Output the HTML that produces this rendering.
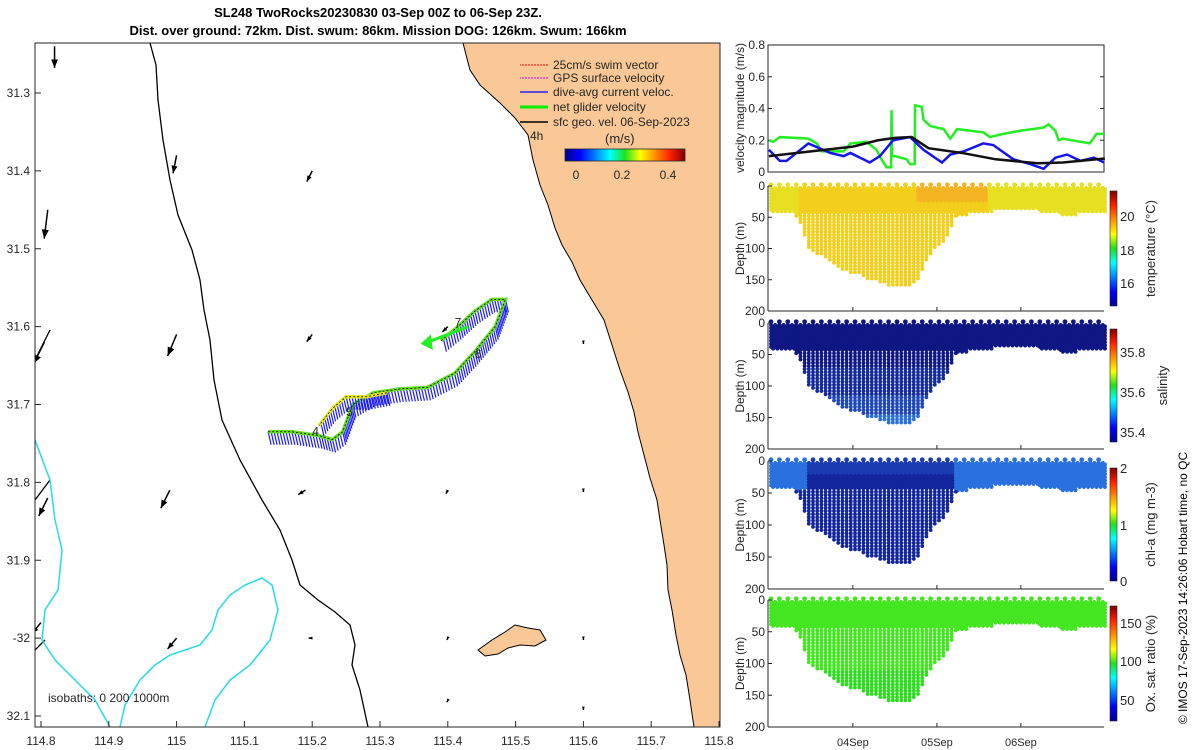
<!DOCTYPE html>
<html><head><meta charset="utf-8">
<style>
html,body{margin:0;padding:0;background:#fff;width:1200px;height:750px;overflow:hidden;font-family:"Liberation Sans",sans-serif;}
svg text{font-family:"Liberation Sans",sans-serif;fill:#262626;}
</style></head>
<body>
<svg id="fig" width="1200" height="750" viewBox="0 0 1200 750" xmlns="http://www.w3.org/2000/svg">
<defs>
<linearGradient id="jetH" x1="0" x2="1" y1="0" y2="0">
<stop offset="0" stop-color="#00008f"/><stop offset="0.125" stop-color="#0000ff"/><stop offset="0.375" stop-color="#00ffff"/><stop offset="0.5" stop-color="#20e020"/><stop offset="0.625" stop-color="#ffff00"/><stop offset="0.875" stop-color="#ff2000"/><stop offset="1" stop-color="#800000"/></linearGradient>
<linearGradient id="jetV" x1="0" x2="0" y1="1" y2="0">
<stop offset="0" stop-color="#00008f"/><stop offset="0.125" stop-color="#0000ff"/><stop offset="0.375" stop-color="#00ffff"/><stop offset="0.5" stop-color="#20e020"/><stop offset="0.625" stop-color="#ffff00"/><stop offset="0.875" stop-color="#ff2000"/><stop offset="1" stop-color="#800000"/></linearGradient>
<clipPath id="mapClip"><rect x="35" y="43" width="685" height="684"/></clipPath>
</defs>
<text x="378" y="17" text-anchor="middle" font-size="13" font-weight="bold" style="fill:#000">SL248 TwoRocks20230830 03-Sep 00Z to 06-Sep 23Z.</text>
<text x="378" y="35" text-anchor="middle" font-size="13" font-weight="bold" style="fill:#000">Dist. over ground: 72km. Dist. swum: 86km. Mission DOG: 126km. Swum: 166km</text>

<g id="map" clip-path="url(#mapClip)">
<rect x="35" y="43" width="685" height="684" fill="#fff"/>
<path fill="#f9c896" stroke="#000" stroke-width="1" d="M463,43 L470,70 L480,85 L500,103 L515,118 L528,135 L533,160 L540,185 L548,205 L555,228 L562,245 L572,262 L580,280 L592,300 L604,320 L612,345 L620,370 L628,392 L634,412 L638,432 L644,455 L650,478 L657,500 L660,520 L664,545 L667,565 L668,590 L672,610 L676,635 L680,655 L686,675 L690,700 L694,727 L720,727 L720,43 Z"/>
<path fill="#f9c896" stroke="#000" stroke-width="1" d="M478,650 L492,640 L505,632 L515,625 L528,628 L540,630 L546,640 L535,646 L520,645 L508,648 L498,654 L485,656 Z"/>
<path fill="none" stroke="#000" stroke-width="1.3" d="M150,43 L156,65 L158,100 L163,140 L170,180 L178,215 L192,250 L200,280 L204,310 L210,340 L214,380 L222,420 L240,460 L262,500 L280,530 L292,560 L300,585 L318,600 L335,612 L350,625 L355,645 L352,665 L360,690 L368,727"/>
<path fill="none" stroke="#000" stroke-width="1.3" d="M35,360 L50,330 M35,500 L50,480 M35,650 L45,640"/>
<path fill="none" stroke="#22dde8" stroke-width="1.5" d="M35,440 L50,480 L55,520 L62,550 L58,590 L45,610 L42,640 L55,660 L75,680 L95,700 L110,727 M205,727 L215,700 L230,680 L250,665 L270,640 L278,610 L272,585 L262,578 L245,585 L230,595 L218,610 L212,630 L200,645 L185,650 L170,655 L155,665 L140,680 L125,705 L120,727"/>
<g id="mapArrows"></g>
<g id="track"></g>
<text x="48" y="702" font-size="12">isobaths: 0   200  1000m</text>
</g>
<rect x="35" y="43" width="685" height="684" fill="none" stroke="#262626" stroke-width="1"/>
<g id="mapTicks"></g>

<g font-size="12">
<line x1="548" y1="65" x2="520" y2="65" stroke="#e00" stroke-dasharray="2,1"/><text x="553" y="69">25cm/s swim vector</text>
<line x1="548" y1="78" x2="520" y2="78" stroke="#e0e" stroke-dasharray="2,1"/><text x="553" y="82">GPS surface velocity</text>
<line x1="548" y1="92" x2="520" y2="92" stroke="#00f" stroke-width="1.3"/><text x="553" y="96">dive-avg current veloc.</text>
<line x1="548" y1="107" x2="520" y2="107" stroke="#0e0" stroke-width="3"/><text x="553" y="111">net glider velocity</text>
<line x1="548" y1="122" x2="520" y2="122" stroke="#000" stroke-width="1.5"/><text x="553" y="126">sfc geo. vel. 06-Sep-2023</text>
<text x="530" y="140">4h</text>
<text x="605" y="143" font-size="13">(m/s)</text>
<rect x="565" y="149" width="120" height="12" fill="url(#jetH)" stroke="#262626" stroke-width="0.8"/>
<text x="576" y="179" text-anchor="middle">0</text><text x="622" y="179" text-anchor="middle">0.2</text><text x="668" y="179" text-anchor="middle">0.4</text>
</g>

<g id="right"></g>
<text transform="translate(1187,588) rotate(-90)" text-anchor="middle" font-size="12" style="fill:#000">© IMOS 17-Sep-2023 14:26:06 Hobart time, no QC</text>
</svg>
<script>
// ---- velocity series (time in days since 03-Sep 00Z) ----
const greenT=[0,0.05,0.13,0.47,0.57,0.63,0.89,0.97,1.16,1.28,1.34,1.4,1.455,1.46,1.465,1.5,1.64,1.68,1.735,1.74,1.82,1.84,1.92,2.08,2.16,2.24,2.55,2.63,2.79,2.99,3.27,3.33,3.41,3.45,3.5,3.82,3.9,3.99];
const greenV=[0.2,0.19,0.22,0.21,0.18,0.13,0.13,0.18,0.19,0.14,0.08,0.03,0.03,0.39,0.1,0.1,0.08,0.05,0.05,0.42,0.41,0.33,0.29,0.27,0.21,0.27,0.25,0.22,0.24,0.26,0.28,0.3,0.26,0.2,0.21,0.18,0.24,0.24];
const blueT=[0,0.13,0.21,0.47,0.73,0.89,0.97,1.2,1.32,1.48,1.68,1.84,2.06,2.16,2.32,2.55,2.67,2.91,3.11,3.27,3.41,3.55,3.71,3.87,3.99];
const blueV=[0.14,0.07,0.07,0.18,0.12,0.1,0.12,0.06,0.1,0.2,0.22,0.14,0.06,0.11,0.13,0.18,0.17,0.08,0.05,0.02,0.09,0.11,0.07,0.09,0.06];
const blackT=[0,0.5,1.0,1.3,1.5,1.7,1.9,2.3,2.7,3.2,3.5,4.0];
const blackV=[0.1,0.13,0.16,0.2,0.215,0.22,0.15,0.12,0.08,0.055,0.06,0.085];
// ---- dive max depths (one per dive, 0.05 day apart) ----
const diveMax=[40,40,40,40,40,42,50,60,80,100,105,108,110,115,120,125,130,133,136,140,140,142,145,148,150,152,155,157,160,160,160,160,160,158,155,148,135,120,110,100,95,90,80,65,50,45,45,42,40,40,38,38,38,36,36,35,35,35,36,36,36,35,35,36,38,40,40,42,42,44,45,45,44,42,42,40,40,40,40,40];
const dateLabels=["04Sep","05Sep","06Sep"];
const dateTicks=[1,2,3];
// ---- map data ----
const lonTicks=[114.8,114.9,115,115.1,115.2,115.3,115.4,115.5,115.6,115.7,115.8];
const latTicks=[31.3,31.4,31.5,31.6,31.7,31.8,31.9,32.0,32.1];
const latLabels=["31.3","31.4","31.5","31.6","31.7","31.8","31.9","-32","32.1"];
const arrowLon=[114.82,114.81,114.805,114.81,114.8,115.0,115.0,114.99,115.0,115.2,115.2,115.19,115.2,115.4,115.4,115.4,115.4,115.6,115.6,115.6,115.6];
const arrowLat=[31.24,31.45,31.62,31.82,31.98,31.38,31.61,31.81,32.0,31.4,31.61,31.81,32.0,31.6,31.81,32.0,32.08,31.62,31.81,32.0,32.09];
const arrowU=[0,-0.02,-0.06,-0.05,-0.05,-0.02,-0.05,-0.05,-0.05,-0.03,-0.03,-0.04,-0.02,-0.03,-0.01,-0.005,-0.005,0,0,0,0];
const arrowV=[-0.12,-0.16,-0.12,-0.1,-0.06,-0.1,-0.12,-0.1,-0.06,-0.06,-0.04,-0.025,0,-0.03,-0.02,-0.01,-0.01,-0.01,-0.01,-0.01,-0.01];
const trackLon=[115.135,115.17,115.21,115.23,115.245,115.26,115.29,115.33,115.37,115.41,115.44,115.47,115.485,115.465,115.44,115.415,115.39];
const trackLat=[31.735,31.735,31.74,31.745,31.735,31.7,31.685,31.68,31.678,31.66,31.632,31.6,31.565,31.565,31.58,31.6,31.618];
const trackLon2=[115.31,115.28,115.25,115.23,115.21];
const trackLat2=[31.685,31.69,31.69,31.705,31.727];

const NS="http://www.w3.org/2000/svg";
function mk(tag,attrs,parent){const e=document.createElementNS(NS,tag);for(const k in attrs)e.setAttribute(k,attrs[k]);parent.appendChild(e);return e;}
const lonX=lon=>41+(lon-114.8)*678;
const latY=lat=>93+(lat-31.3)*778.75;

const mt=document.getElementById('mapTicks');
lonTicks.forEach(l=>{const x=lonX(l);mk('line',{x1:x,x2:x,y1:727,y2:721,stroke:'#262626'},mt);
 const t=mk('text',{x:x,y:745,'text-anchor':'middle','font-size':12},mt);t.textContent=(+l.toFixed(1)).toString();
 
 });
latTicks.forEach((l,i)=>{const y=latY(l);mk('line',{x1:35,x2:41,y1:y,y2:y,stroke:'#262626'},mt);
 const t=mk('text',{x:30,y:y+4,'text-anchor':'end','font-size':12},mt);t.textContent=latLabels[i];
 
 });

const ma=document.getElementById('mapArrows');
arrowLon.forEach((lo,i)=>{const x=lonX(lo),y=latY(arrowLat[i]);const dx=arrowU[i]*180,dy=-arrowV[i]*180;
 const x2=x+dx,y2=y+dy;const L=Math.hypot(dx,dy)||1;const ux=dx/L,uy=dy/L;const h=Math.min(9,3+L*0.25);
 const g=mk('g',{},ma);
 
 
 mk('line',{x1:x,y1:y,x2:x2,y2:y2,stroke:'#000','stroke-width':1.5},g);
 mk('polygon',{points:`${x2},${y2} ${x2-ux*h-uy*h*0.4},${y2-uy*h+ux*h*0.4} ${x2-ux*h+uy*h*0.4},${y2-uy*h-ux*h*0.4}`,fill:'#000'},g);});

const tr=document.getElementById('track');
function drawTrack(lons,lats,cols){
 const pts=lons.map((l,i)=>[lonX(l),latY(lats[i])]);
 for(let i=0;i<pts.length-1;i++){const [a,b]=pts[i],[c,d]=pts[i+1];const n=Math.max(2,Math.round(Math.hypot(c-a,d-b)/3));
  for(let k=0;k<n;k++){const x=a+(c-a)*k/n,y=b+(d-b)*k/n;mk('line',{x1:x,y1:y,x2:x+3,y2:y+13,stroke:'#1a1aff','stroke-width':1.2},tr);}}
 const p=mk('polyline',{points:pts.map(p=>p.join(',')).join(' '),fill:'none',stroke:cols,'stroke-width':3.5},tr);
 
 
 mk('polyline',{points:pts.map(p=>p.join(',')).join(' '),fill:'none',stroke:'#000','stroke-width':0.8,'stroke-dasharray':'2,2'},tr);
}
drawTrack(trackLon,trackLat,'#66dd22');
drawTrack(trackLon2,trackLat2,'#e8e820');
const nv=mk('line',{x1:lonX(115.43),y1:latY(31.6),x2:lonX(115.37),y2:latY(31.62),stroke:'#22ee22','stroke-width':3},tr);


mk('polygon',{points:`${lonX(115.36)},${latY(31.622)} ${lonX(115.375)},${latY(31.61)} ${lonX(115.378)},${latY(31.63)}`,fill:'#22ee22'},tr);
[["4",115.2,31.74],["5",115.25,31.715],["6",115.44,31.64],["7",115.41,31.6]].forEach(a=>{const t=mk('text',{x:lonX(a[1]),y:latY(a[2]),'font-size':12},tr);t.textContent=a[0];});

// ---- right panels ----
const R=document.getElementById('right');
const X0=768,X1=1104;
const tx=t=>768.9+t*84;
const vTop=45,vBot=172;const vy=v=>vBot-(v/0.8)*(vBot-vTop);
const vp=mk('g',{},R);


mk('rect',{x:X0,y:vTop,width:X1-X0,height:vBot-vTop,fill:'#fff',stroke:'#262626'},vp);
[0,0.2,0.4,0.6,0.8].forEach(v=>{mk('line',{x1:X0,x2:X0+4,y1:vy(v),y2:vy(v),stroke:'#262626'},vp);mk('line',{x1:X1,x2:X1-4,y1:vy(v),y2:vy(v),stroke:'#262626'},vp);
 const t=mk('text',{x:X0-3,y:vy(v)+4,'text-anchor':'end','font-size':12},vp);t.textContent=v===0?'0':v.toFixed(1);});
const vl=mk('text',{transform:`translate(744,108) rotate(-90)`,'text-anchor':'middle','font-size':12},vp);vl.textContent='velocity magnitude (m/s)';
function series(T,V,col,name){const p=mk('polyline',{points:T.map((t,i)=>tx(t)+','+vy(V[i])).join(' '),fill:'none',stroke:col,'stroke-width':2.5},vp);
 
 }
series(greenT,greenV,'#22ee22','net-glider-velocity-line');
series(blueT,blueV,'#1414ee','dive-avg-current-line');
series(blackT,blackV,'#111','geostrophic-velocity-line');

const panels=[
 {top:186,bot:311,name:'temperature-panel',label:'temperature (°C)',cb:[191,306],ticks:[[216,'20'],[250,'18'],[283,'16']],
  col:(t,d)=> d<25&&t>1.75&&t<2.6?'#f4b423':((d<45&&t>2.6)||(d<45&&t<0.35)?'#e6df22':'#f2cf1c')},
 {top:323,bot:449,name:'salinity-panel',label:'salinity',cb:[329,442],ticks:[[352,'35.8'],[392,'35.6'],[432,'35.4']],
  col:(t,d)=> d>145?'#2a70d8':(d>115?'#1e48b8':(d>70?'#142a98':'#0f1784'))},
 {top:461,bot:589,name:'chlorophyll-panel',label:'chl-a (mg m-3)',cb:[468,581],ticks:[[468,'2'],[525,'1'],[581,'0']],
  col:(t,d)=> (t<0.45||t>2.2)&&d<45?'#2a70de':(d<20?'#1a3cb0':'#12259a')},
 {top:600,bot:727,name:'oxygen-panel',label:'Ox. sat. ratio (%)',cb:[606,721],ticks:[[623,'150'],[661,'100'],[700,'50']],
  col:(t,d)=> d>110?'#2edb20':'#44e622'}
];
panels.forEach(P=>{
 const g=mk('g',{},R);
 
 
 const dy=d=>P.top+d/200*(P.bot-P.top);
 mk('rect',{x:X0,y:P.top,width:X1-X0,height:P.bot-P.top,fill:'#fff'},g);
 diveMax.forEach((m,i)=>{const t=0.025+0.05*i;const x=tx(t);
  for(let d=3;d<=m;d+=5){mk('circle',{cx:x,cy:dy(d),r:1.9,fill:P.col(t,d)},g);
   if(d<=45&&(m<60||d<=40)){mk('circle',{cx:x+2.1,cy:dy(d+2.5),r:2.1,fill:P.col(t,d)},g);}}
  if(i%2===0)mk('circle',{cx:x,cy:dy(-2),r:2.4,fill:P.col(t,0)},g);});
 mk('line',{x1:X0,x2:X1,y1:P.bot,y2:P.bot,stroke:'#262626'},g);
 mk('line',{x1:X0,x2:X0,y1:P.top,y2:P.bot,stroke:'#262626'},g);
 [0,50,100,150,200].forEach(d=>{mk('line',{x1:X0,x2:X0+4,y1:dy(d),y2:dy(d),stroke:'#262626'},g);
  const t=mk('text',{x:X0-3,y:dy(d)+4,'text-anchor':'end','font-size':12},g);t.textContent=d;});
 dateTicks.forEach(d=>mk('line',{x1:tx(d),x2:tx(d),y1:P.bot,y2:P.bot-4,stroke:'#262626'},g));
 const yl=mk('text',{transform:`translate(744,${(P.top+P.bot)/2}) rotate(-90)`,'text-anchor':'middle','font-size':12},g);yl.textContent='Depth (m)';
 const cb=mk('rect',{x:1110,y:P.cb[0],width:7,height:P.cb[1]-P.cb[0],fill:'url(#jetV)',stroke:'#262626','stroke-width':0.6},g);
 
 
 P.ticks.forEach(tk=>{const t=mk('text',{x:1120,y:tk[0]+5,'font-size':13},g);t.textContent=tk[1];});
 const cl=mk('text',{transform:`translate(${P.name==='salinity-panel'?1167:1155},${(P.cb[0]+P.cb[1])/2}) rotate(-90)`,'text-anchor':'middle','font-size':13},g);cl.textContent=P.label;
});
dateTicks.forEach((d,i)=>{const t=mk('text',{x:tx(d),y:746,'text-anchor':'middle','font-size':11},R);t.textContent=dateLabels[i];
 
 });
</script>
</body></html>
